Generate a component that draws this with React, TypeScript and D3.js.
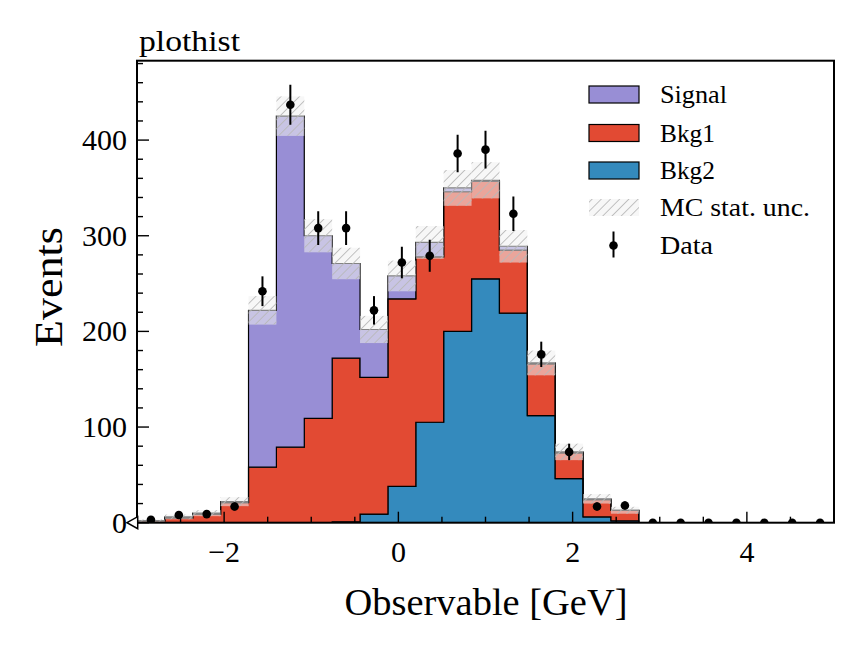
import React, { useEffect, useRef, FC } from "react";
import * as d3 from "d3";

// histogram binning (25 bins between -3 and 5)
const binEdges = [
  -3.0, -2.68, -2.36, -2.04, -1.72, -1.4, -1.08, -0.76, -0.44, -0.12, 0.2, 0.52, 0.84,
  1.16, 1.48, 1.8, 2.12, 2.44, 2.76, 3.08, 3.4, 3.72, 4.04, 4.36, 4.68, 5.0,
];

// stacked MC components (bottom to top)
const bkg2 = [0, 0, 0, 0, 0, 0, 0, 1, 9, 38, 105, 200, 255, 219, 112, 46, 6, 2, 0, 0, 0, 0, 0, 0, 0];
const bkg1 = [2, 5, 9, 21, 58, 79, 109, 171, 143, 196, 173, 146, 102, 66, 54, 27, 18, 11, 0, 0, 0, 0, 0, 0, 0];
const signal = [0, 1, 1, 1, 164, 346, 191, 99, 50, 24, 15, 4, 1, 4, 1, 1, 1, 0, 0, 0, 0, 0, 0, 0, 0];

// observed data
const dataCounts = [3, 8, 9, 17, 242, 437, 308, 308, 222, 272, 279, 386, 390, 323, 176, 74, 17, 18, 0, 0, 0, 0, 0, 0, 0];

const xTicks = [-2, 0, 2, 4];
const xMinorTicks = [-2.5, -1.5, -1, -0.5, 0.5, 1, 1.5, 2.5, 3, 3.5, 4.5];
const yTicks = [0, 100, 200, 300, 400];

const components = [
  { key: "bkg2", label: "Bkg2", color: "#348ABD" },
  { key: "bkg1", label: "Bkg1", color: "#E24A33" },
  { key: "signal", label: "Signal", color: "#988ED5" },
];

const W = 864;
const H = 653;
const plot = { left: 137, top: 60.7, right: 834, bottom: 522.7 };
const FONT = "Liberation Serif, DejaVu Serif, Times New Roman, serif";

const App: FC = () => {
  const svgRef = useRef<SVGSVGElement>(null);

  useEffect(() => {
    const svg = d3.select(svgRef.current);
    svg.selectAll("*").remove();

    const x = d3.scaleLinear().domain([-3, 5]).range([plot.left, plot.right]);
    const y = d3.scaleLinear().domain([0, 483]).range([plot.bottom, plot.top]);

    const rows = binEdges.slice(0, -1).map((e, i) => ({
      x0: e,
      x1: binEdges[i + 1],
      bkg2: bkg2[i],
      bkg1: bkg1[i],
      signal: signal[i],
    }));
    const stacked = d3.stack<any>().keys(components.map((c) => c.key))(rows);

    const defs = svg.append("defs");
    const pat = defs
      .append("pattern")
      .attr("id", "hatch")
      .attr("patternUnits", "userSpaceOnUse")
      .attr("width", 6.5)
      .attr("height", 6.5)
      .attr("patternTransform", "rotate(45)");
    pat
      .append("line")
      .attr("x1", 0)
      .attr("y1", 0)
      .attr("x2", 0)
      .attr("y2", 6.5)
      .attr("stroke", "#b8b8b8")
      .attr("stroke-width", 1.7);
    defs
      .append("clipPath")
      .attr("id", "plotclip")
      .append("rect")
      .attr("x", plot.left)
      .attr("y", plot.top)
      .attr("width", plot.right - plot.left)
      .attr("height", plot.bottom - plot.top);

    const g = svg.append("g").attr("clip-path", "url(#plotclip)");

    // stacked step histograms
    const area = d3
      .area<any>()
      .x((d: any) => x(d.x))
      .y0((d: any) => y(d.lo))
      .y1((d: any) => y(d.hi));

    stacked.forEach((series: any, si: number) => {
      const pts: any[] = [];
      series.forEach((s: any, i: number) => {
        pts.push({ x: rows[i].x0, lo: s[0], hi: s[1] });
        pts.push({ x: rows[i].x1, lo: s[0], hi: s[1] });
      });
      g.append("path")
        .attr("d", area(pts))
        .attr("fill", components[si].color)
        .attr("stroke", "black")
        .attr("stroke-width", 1.2)
        .attr("stroke-linejoin", "miter");
    });

    // MC stat uncertainty band
    const totals = rows.map((r) => r.bkg2 + r.bkg1 + r.signal);
    const band = g.append("g");
    totals.forEach((t, i) => {
      const err = Math.sqrt(t);
      const y0 = y(Math.max(0, t - err));
      const y1 = y(t + err);
      const bx = x(rows[i].x0);
      const bw = x(rows[i].x1) - bx;
      band
        .append("rect")
        .attr("x", bx)
        .attr("y", y1)
        .attr("width", bw)
        .attr("height", y0 - y1)
        .attr("fill", "rgb(240,240,240)")
        .attr("fill-opacity", 0.55);
      band
        .append("rect")
        .attr("x", bx)
        .attr("y", y1)
        .attr("width", bw)
        .attr("height", y0 - y1)
        .attr("fill", "url(#hatch)");
    });

    // data points
    const pts = g.append("g");
    dataCounts.forEach((n, i) => {
      const cx = x((rows[i].x0 + rows[i].x1) / 2);
      const err = Math.sqrt(n);
      pts
        .append("line")
        .attr("x1", cx)
        .attr("x2", cx)
        .attr("y1", y(n - err))
        .attr("y2", y(n + err))
        .attr("stroke", "black")
        .attr("stroke-width", 2);
      pts.append("circle").attr("cx", cx).attr("cy", y(n)).attr("r", 4.3).attr("fill", "black");
    });

    // ticks (inward, left and bottom only)
    const ax = svg.append("g").attr("stroke", "black").attr("stroke-width", 1.4);
    d3.range(0, 481, 20).forEach((v) => {
      const major = v % 100 === 0;
      ax.append("line")
        .attr("x1", plot.left)
        .attr("x2", plot.left + (major ? 12 : 6))
        .attr("y1", y(v))
        .attr("y2", y(v));
    });
    xTicks.forEach((v) => {
      ax.append("line").attr("x1", x(v)).attr("x2", x(v)).attr("y1", plot.bottom).attr("y2", plot.bottom - 11);
    });
    xMinorTicks.forEach((v) => {
      ax.append("line").attr("x1", x(v)).attr("x2", x(v)).attr("y1", plot.bottom).attr("y2", plot.bottom - 6);
    });

    svg
      .append("rect")
      .attr("x", plot.left)
      .attr("y", plot.top)
      .attr("width", plot.right - plot.left)
      .attr("height", plot.bottom - plot.top)
      .attr("fill", "none")
      .attr("stroke", "black")
      .attr("stroke-width", 2);

    // tick labels
    const txt = svg.append("g").style("font-family", FONT).attr("fill", "black");
    yTicks.forEach((v) => {
      txt
        .append("text")
        .attr("x", 127)
        .attr("y", y(v) + 10)
        .attr("text-anchor", "end")
        .attr("font-size", 30)
        .text(String(v));
    });
    xTicks.forEach((v) => {
      txt
        .append("text")
        .attr("x", x(v))
        .attr("y", 562)
        .attr("text-anchor", "middle")
        .attr("font-size", 30)
        .text(v < 0 ? "\u2212" + Math.abs(v) : String(v));
    });

    // zero marker at the y axis origin
    svg
      .append("path")
      .attr("d", `M127,${plot.bottom} L137.7,${plot.bottom - 6} L137.7,${plot.bottom + 6} Z`)
      .attr("fill", "white")
      .attr("stroke", "black")
      .attr("stroke-width", 1.5);

    // axis labels and title
    txt
      .append("text")
      .attr("x", 486)
      .attr("y", 615)
      .attr("text-anchor", "middle")
      .attr("font-size", 38)
      .attr("textLength", 283)
      .attr("lengthAdjust", "spacingAndGlyphs")
      .text("Observable [GeV]");
    txt
      .append("text")
      .attr("transform", "translate(62,287) rotate(-90)")
      .attr("text-anchor", "middle")
      .attr("font-size", 39)
      .attr("textLength", 120)
      .attr("lengthAdjust", "spacingAndGlyphs")
      .text("Events");
    txt
      .append("text")
      .attr("x", 139)
      .attr("y", 51)
      .attr("font-size", 30)
      .attr("textLength", 101)
      .attr("lengthAdjust", "spacingAndGlyphs")
      .text("plothist");

    // legend
    const leg = svg.append("g").style("font-family", FONT);
    const legendRows = [
      { label: "Signal", color: "#988ED5", w: 67 },
      { label: "Bkg1", color: "#E24A33", w: 55 },
      { label: "Bkg2", color: "#348ABD", w: 55 },
    ];
    const rowY = [94.5, 133, 170.5, 207.5, 245.5];
    legendRows.forEach((r, i) => {
      leg
        .append("rect")
        .attr("x", 589)
        .attr("y", rowY[i] - 8.5)
        .attr("width", 50)
        .attr("height", 17)
        .attr("fill", r.color)
        .attr("stroke", "black")
        .attr("stroke-width", 1.2);
      leg
        .append("text")
        .attr("x", 660)
        .attr("y", rowY[i] + 8.5)
        .attr("font-size", 25)
        .attr("textLength", r.w)
        .attr("lengthAdjust", "spacingAndGlyphs")
        .text(r.label);
    });
    leg
      .append("rect")
      .attr("x", 589)
      .attr("y", rowY[3] - 8.5)
      .attr("width", 50)
      .attr("height", 17)
      .attr("fill", "rgb(240,240,240)")
      .attr("fill-opacity", 0.55);
    leg
      .append("rect")
      .attr("x", 589)
      .attr("y", rowY[3] - 8.5)
      .attr("width", 50)
      .attr("height", 17)
      .attr("fill", "url(#hatch)");
    leg
      .append("text")
      .attr("x", 660)
      .attr("y", rowY[3] + 8.5)
      .attr("font-size", 25)
      .attr("textLength", 150)
      .attr("lengthAdjust", "spacingAndGlyphs")
      .text("MC stat. unc.");
    leg
      .append("line")
      .attr("x1", 613.5)
      .attr("x2", 613.5)
      .attr("y1", rowY[4] - 14)
      .attr("y2", rowY[4] + 12)
      .attr("stroke", "black")
      .attr("stroke-width", 2);
    leg.append("circle").attr("cx", 613.5).attr("cy", rowY[4]).attr("r", 4.3).attr("fill", "black");
    leg
      .append("text")
      .attr("x", 660)
      .attr("y", rowY[4] + 8.5)
      .attr("font-size", 25)
      .attr("textLength", 53)
      .attr("lengthAdjust", "spacingAndGlyphs")
      .text("Data");
  }, []);

  return (
    <div style={{ position: "absolute", left: 0, top: 0, width: W, height: H, background: "white" }}>
      <svg ref={svgRef} width={W} height={H} viewBox={`0 0 ${W} ${H}`} />
    </div>
  );
};

export default App;
